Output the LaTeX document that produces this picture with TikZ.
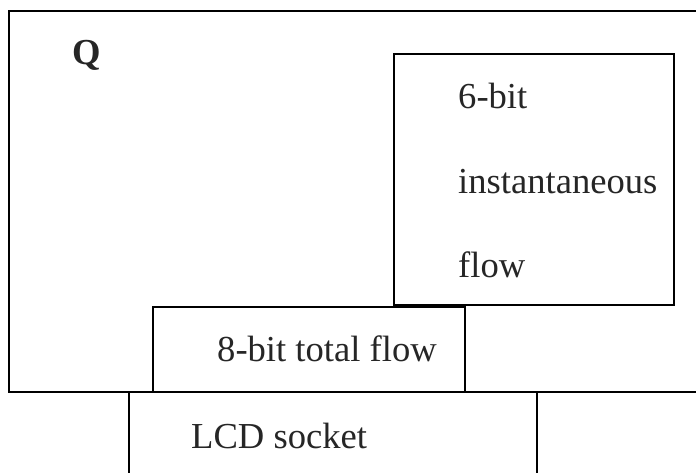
\documentclass[tikz,border=0pt]{standalone}
\usepackage{fontspec}
\setmainfont{Liberation Serif}
\begin{document}
\begin{tikzpicture}[x=1pt,y=-1pt,
  boxline/.style={draw=black,line width=2.6pt},
  lbl/.style={anchor=base west,inner sep=0pt,text=black!85,font=\fontsize{36.6}{40}\selectfont}]
\useasboundingbox (0,0) rectangle (696,473);
\clip (0,0) rectangle (696,473);
% outer box
\draw[boxline] (9,11) rectangle (720,392);
% 6-bit box
\draw[boxline] (394,54) rectangle (674,305);
% 8-bit box
\draw[boxline] (153,307) rectangle (465,392);
% LCD socket
\coordinate (l1) at (129,392);
\coordinate (l2) at (129,480);
\coordinate (r1) at (537,392);
\coordinate (r2) at (537,480);
\draw[boxline] (l1) -- (l2);
\draw[boxline] (r1) -- (r2);
% labels
\node[lbl,font=\bfseries\fontsize{36.6}{40}\selectfont] (q) at (72,65) {Q};
\node[lbl] (t1) at (458,109) {6-bit};
\node[lbl] (t2) at (458,194) {instantaneous};
\node[lbl] (t3) at (458,277) {flow};
\node[lbl] (t4) at (217,361) {8-bit total flow};
\node[lbl] (t5) at (191,448) {LCD socket};
\end{tikzpicture}
\end{document}
